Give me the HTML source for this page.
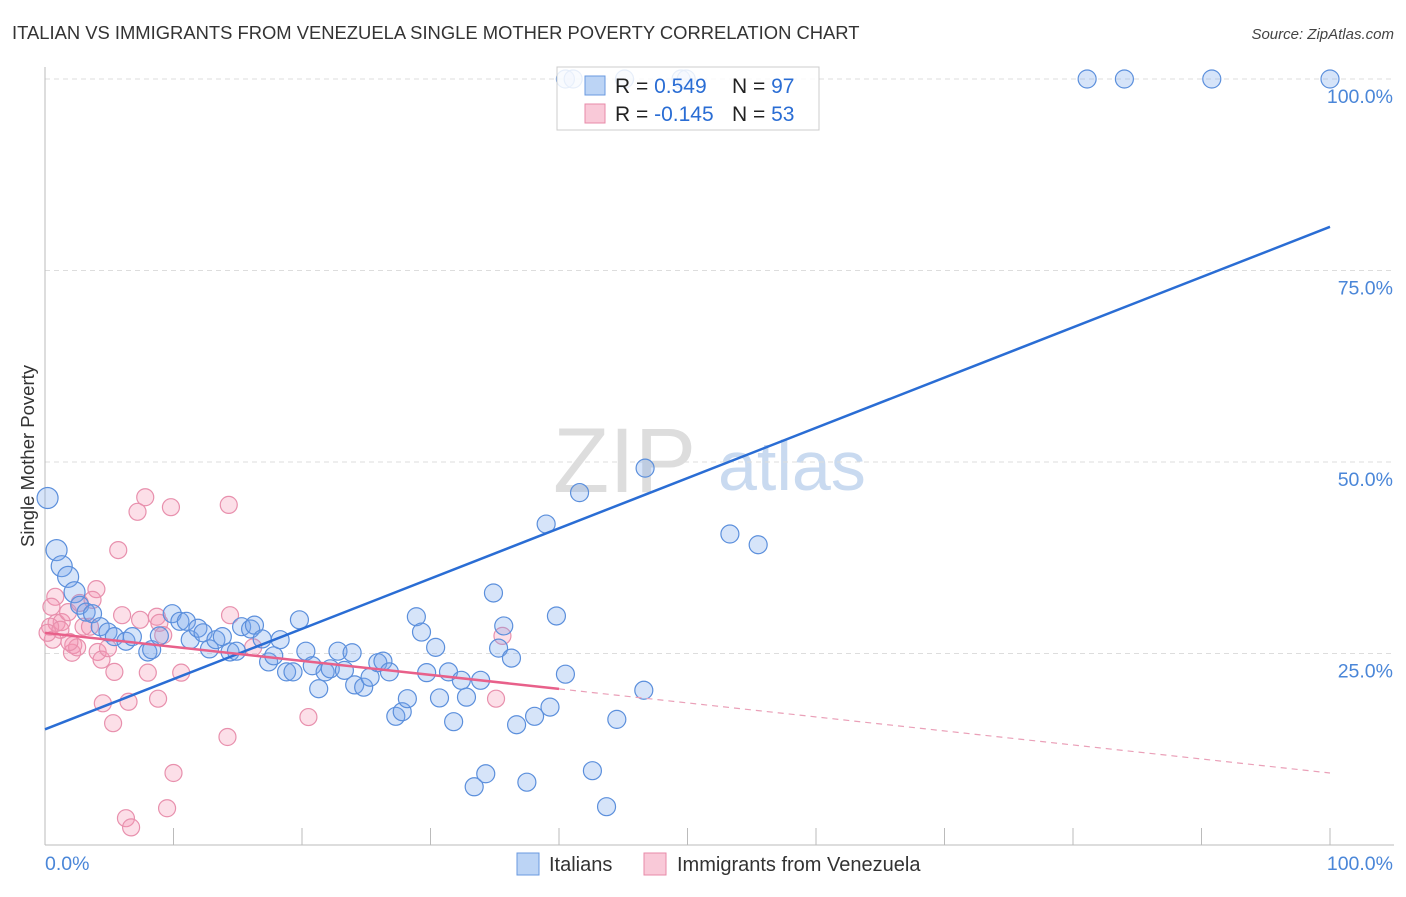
<!DOCTYPE html>
<html><head><meta charset="utf-8"><style>
body{margin:0;background:#fff;font-family:"Liberation Sans",sans-serif}
svg text{font-family:"Liberation Sans",sans-serif}
</style></head><body>
<svg id="chart" width="1406" height="892" xmlns="http://www.w3.org/2000/svg">
<text x="12" y="39" font-size="18.4" fill="#333">ITALIAN VS IMMIGRANTS FROM VENEZUELA SINGLE MOTHER POVERTY CORRELATION CHART</text>
<text x="1394" y="39" font-size="15" fill="#444" text-anchor="end" font-style="italic">Source: ZipAtlas.com</text>
<g>
<text x="553" y="492" font-size="92" fill="#ddd" font-family="Liberation Serif,serif">ZIP</text>
<text x="718" y="490" font-size="70" fill="#c9daf0">atlas</text>
</g>
<g id="grid"></g>
<line x1="45" y1="67" x2="45" y2="845" stroke="#bbb"/>
<line x1="45" y1="845" x2="1394" y2="845" stroke="#bbb"/>
<text transform="translate(34,456) rotate(-90)" font-size="18.5" fill="#333" text-anchor="middle">Single Mother Poverty</text>
<text x="45" y="870" font-size="19.5" fill="#4a86d8">0.0%</text>
<text x="1393" y="870" font-size="19.5" fill="#4a86d8" text-anchor="end">100.0%</text>
<g id="pts"></g>
<g id="lines"></g>
<g>
<rect x="557" y="67" width="262" height="63" fill="rgba(255,255,255,0.85)" stroke="#ccc"/>
<rect x="585" y="76" width="20" height="19" fill="#bcd4f5" stroke="#6a9ae0"/>
<rect x="585" y="104" width="20" height="19" fill="#f9c9d8" stroke="#e88aa8"/>
<text x="615" y="93" font-size="21" fill="#222">R = <tspan fill="#2a6dd4">0.549</tspan></text>
<text x="732" y="93" font-size="21" fill="#222">N = <tspan fill="#2a6dd4">97</tspan></text>
<text x="615" y="121" font-size="21" fill="#222">R = <tspan fill="#2a6dd4">-0.145</tspan></text>
<text x="732" y="121" font-size="21" fill="#222">N = <tspan fill="#2a6dd4">53</tspan></text>
</g>
<g>
<rect x="517" y="853" width="22" height="22" fill="#bcd4f5" stroke="#6a9ae0"/>
<text x="549" y="871" font-size="20" fill="#333">Italians</text>
</g>
<g>
<rect x="644" y="853" width="22" height="22" fill="#f9c9d8" stroke="#e88aa8"/>
<text x="677" y="871" font-size="20" fill="#333">Immigrants from Venezuela</text>
</g>
</svg>
<script>
const yTicks=[25,50,75,100];
const yTickLabels=["25.0%","50.0%","75.0%","100.0%"];
const xTicks=[0,10,20,30,40,50,60,70,80,90,100];
const blueX=[0.2,0.9,1.3,1.8,2.3,2.7,3.2,3.7,4.3,4.9,5.4,6.3,6.8,8.0,8.3,8.9,9.9,10.5,11.0,11.3,11.9,12.3,12.8,13.3,13.8,14.4,14.9,15.3,16.0,16.3,16.9,17.4,17.8,18.3,18.8,19.3,19.8,20.3,20.8,21.3,21.8,22.2,22.8,23.3,23.9,24.1,24.8,25.3,25.9,26.3,26.8,27.3,27.8,28.2,28.9,29.3,29.7,30.4,30.7,31.4,31.8,32.4,32.8,33.9,33.4,34.3,34.9,35.3,35.7,36.3,36.7,37.5,38.1,39.3,39.0,39.8,40.5,41.6,42.6,43.7,44.5,46.6,46.7,53.3,55.5,40.5,41.1,45.1,49.5,49.9,81.1,84.0,90.8,100];
const blueY=[45.3,38.5,36.4,35.0,33.0,31.3,30.4,30.2,28.5,27.8,27.2,26.6,27.2,25.2,25.5,27.3,30.2,29.2,29.2,26.8,28.3,27.7,25.6,26.8,27.2,25.2,25.3,28.5,28.2,28.7,26.9,23.9,24.7,26.8,22.6,22.6,29.4,25.3,23.4,20.4,22.6,23.0,25.3,22.8,25.1,20.9,20.6,21.9,23.8,24.0,22.6,16.8,17.4,19.1,29.8,27.8,22.5,25.8,19.2,22.6,16.1,21.5,19.3,21.5,7.6,9.3,32.9,25.7,28.6,24.4,15.7,8.2,16.8,18.0,41.9,29.9,22.3,46.0,9.7,5.0,16.4,20.2,49.2,40.6,39.2,100,100,100,100,100,100,100,100,100];
const pinkX=[7.8,7.2,9.8,14.3,5.7,4.0,0.8,0.5,3.7,0.9,1.3,0.4,0.6,2.1,2.2,2.5,6.0,7.4,8.7,14.4,4.1,4.4,4.9,5.4,8.0,10.6,16.2,4.5,6.5,8.8,5.3,20.5,14.2,10.0,9.5,6.3,6.7,1.9,3.0,3.5,8.9,9.2,1.8,2.7,35.6,35.1,0.2,1.2];
const pinkY=[45.4,43.5,44.1,44.4,38.5,33.4,32.4,31.1,32.0,29.0,29.1,28.5,26.8,25.1,26.1,25.8,30.0,29.4,29.8,30.0,25.2,24.2,25.7,22.6,22.5,22.5,25.8,18.5,18.7,19.1,15.9,16.7,14.1,9.4,4.8,3.5,2.3,26.5,28.5,28.5,29.0,27.4,30.4,31.6,27.3,19.1,27.7,28.1];
const blueTrend=[15.1,80.7];
const pinkTrend=[27.7,9.4];
const pinkSolidEnd=40;
const NS="http://www.w3.org/2000/svg";
const X=v=>45+v*12.85;
const Y=v=>845-v*7.66;
function mk(tag,attrs,parent){const e=document.createElementNS(NS,tag);for(const k in attrs)e.setAttribute(k,attrs[k]);parent.appendChild(e);return e;}
const grid=document.getElementById('grid');
yTicks.forEach((t,i)=>{
 const l=mk('line',{x1:45,x2:1394,y1:Y(t),y2:Y(t),stroke:'#ddd','stroke-dasharray':'5,4'},grid);
 
 
 const tx=mk('text',{x:1393,y:Y(t)+24,'font-size':19.5,fill:'#4a86d8','text-anchor':'end'},grid);
 tx.textContent=yTickLabels[i];
 
 
});
xTicks.forEach(t=>{
 const l=mk('line',{x1:X(t),x2:X(t),y1:828,y2:845,stroke:'#bbb'},grid);
 
 
});
const pts=document.getElementById('pts');
pinkX.forEach((x,i)=>{
 const c=mk('circle',{cx:X(x),cy:Y(pinkY[i]),r:8.5,fill:'rgba(244,150,180,0.3)',stroke:'#e890ad','stroke-width':1.2},pts);
 
 
});
blueX.forEach((x,i)=>{
 const r=i<5?10.5:9;
 const c=mk('circle',{cx:X(x),cy:Y(blueY[i]),r:r,fill:'rgba(120,165,235,0.3)',stroke:'#5b8fdc','stroke-width':1.2},pts);
 
 
});
const lines=document.getElementById('lines');
const bl=mk('line',{x1:X(0),y1:Y(blueTrend[0]),x2:X(100),y2:Y(blueTrend[1]),stroke:'#2a6dd4','stroke-width':2.5},lines);


const pyAt=x=>pinkTrend[0]+(pinkTrend[1]-pinkTrend[0])*x/100;
const pl=mk('line',{x1:X(0),y1:Y(pinkTrend[0]),x2:X(pinkSolidEnd),y2:Y(pyAt(pinkSolidEnd)),stroke:'#e8608a','stroke-width':2.5},lines);


const pd=mk('line',{x1:X(pinkSolidEnd),y1:Y(pyAt(pinkSolidEnd)),x2:X(100),y2:Y(pinkTrend[1]),stroke:'#eaa0b8','stroke-width':1.2,'stroke-dasharray':'6,5'},lines);


</script>
</body></html>
